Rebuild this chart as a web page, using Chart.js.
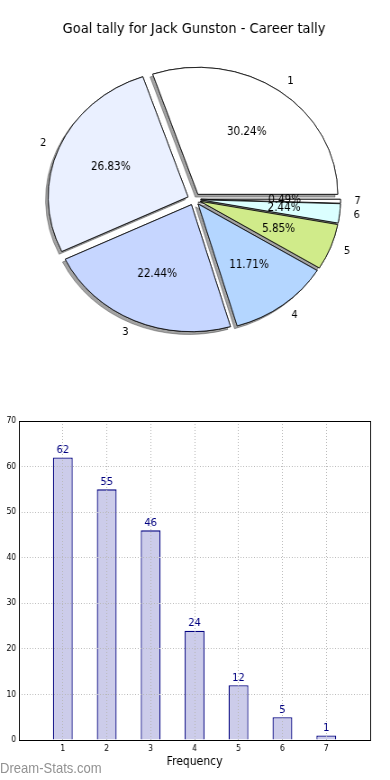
<!DOCTYPE html>
<html>
<head>
<meta charset="utf-8">
<script src="https://cdn.jsdelivr.net/npm/chart.js@4/dist/chart.umd.min.js"></script>
<style>
  body { margin: 0; background: #fff; }
  #wrap { position: relative; width: 433px; height: 780px; transform: scale(0.9007, 1); transform-origin: 0 0; }
  canvas { position: absolute; left: 0; }
  #mark { position: absolute; left: 0; top: 761px; font: 14.5px "Liberation Sans", sans-serif; line-height: 15px; color: #929292; }
</style>
</head>
<body>
<div id="wrap">
  <canvas id="pie" width="433" height="400" style="top:0;width:433px;height:400px"></canvas>
  <canvas id="bars" width="433" height="380" style="top:400px;width:433px;height:380px"></canvas>
  <div id="mark">Dream-Stats.com</div>
</div>
<script>
// goals kicked in a game, and how many games
var goals = [1, 2, 3, 4, 5, 6, 7];
var games = [62, 55, 46, 24, 12, 5, 1];
var yTicks = [0, 10, 20, 30, 40, 50, 60, 70];

var sliceColors = ['#ffffff', '#eaf0ff', '#c6d6ff', '#b4d6ff', '#d0eb8a', '#dbffff', '#ffffff'];
var SX = 1.222;     // pie is wider than tall
var EXPLODE = 6;

var total = games.reduce(function (a, b) { return a + b; }, 0);

// matplotlib goes counter clockwise from 3 o'clock, so feed it reversed
var explodePlugin = {
  id: 'explode',
  beforeDatasetsDraw: function (chart) {
    var ctx = chart.ctx;
    var arcs = chart.getDatasetMeta(0).data;
    var cx = arcs[0].x, cy = arcs[0].y, r = arcs[0].outerRadius;

    function drawArcs(shadow) {
      arcs.forEach(function (arc) {
        var mid = (arc.startAngle + arc.endAngle) / 2;
        ctx.save();
        if (shadow) {
          ctx.shadowColor = 'rgba(0,0,0,0.36)';
          ctx.shadowOffsetX = -3;
          ctx.shadowOffsetY = 2.8;
          ctx.shadowBlur = 0;
        }
        ctx.translate(cx, cy);
        ctx.scale(SX, 1);
        ctx.translate(-cx, -cy);
        ctx.translate(Math.cos(mid) * EXPLODE, Math.sin(mid) * EXPLODE);
        arc.draw(ctx);
        ctx.restore();
      });
    }
    drawArcs(true);
    drawArcs(false);

    // labels and percentages
    var labels = chart.data.labels;
    var values = chart.data.datasets[0].data;
    ctx.save();
    ctx.fillStyle = '#000';
    ctx.textBaseline = 'middle';
    arcs.forEach(function (arc, i) {
      var mid = (arc.startAngle + arc.endAngle) / 2;
      var c = Math.cos(mid), s = Math.sin(mid);
      var lx = cx + (EXPLODE + 1.1 * r) * c * SX;
      var ly = cy + (EXPLODE + 1.1 * r) * s;
      ctx.font = '11px "DejaVu Sans"';
      ctx.textAlign = c > 0 ? 'left' : 'right';
      ctx.fillText(labels[i], lx, ly);
      var px = cx + (EXPLODE + 0.6 * r) * c * SX;
      var py = cy + (EXPLODE + 0.6 * r) * s;
      ctx.font = '11.5px "DejaVu Sans"';
      ctx.textAlign = 'center';
      ctx.fillText((values[i] / total * 100).toFixed(2) + '%', px, py);
    });
    ctx.restore();
    return false;
  }
};

new Chart(document.getElementById('pie'), {
  type: 'pie',
  data: {
    labels: goals.slice().reverse().map(String),
    datasets: [{
      data: games.slice().reverse(),
      backgroundColor: sliceColors.slice().reverse(),
      borderColor: '#111',
      borderWidth: 0.8,
      rotation: 90,
      radius: 127
    }]
  },
  options: {
    responsive: false,
    animation: false,
    layout: { padding: { left: 0, right: 2, top: 0, bottom: 40 } },
    plugins: {
      legend: { display: false },
      tooltip: { enabled: false },
      title: {
        display: true,
        text: 'Goal tally for Jack Gunston - Career tally',
        color: '#000',
        font: { family: 'DejaVu Sans', size: 14.5, weight: 'normal' },
        padding: { top: 21, bottom: 0 }
      }
    }
  },
  plugins: [explodePlugin]
});

// frame round the plot and the numbers above the bars
var barExtras = {
  id: 'barExtras',
  afterDraw: function (chart) {
    var ctx = chart.ctx, a = chart.chartArea;
    ctx.save();
    ctx.strokeStyle = '#000';
    ctx.lineWidth = 1;
    ctx.strokeRect(Math.round(a.left) + 0.5, Math.round(a.top) + 0.5, Math.round(a.right - a.left), Math.round(a.bottom - a.top));
    ctx.fillStyle = '#000080';
    ctx.font = '11px "DejaVu Sans"';
    ctx.textAlign = 'center';
    ctx.textBaseline = 'bottom';
    chart.getDatasetMeta(0).data.forEach(function (bar, i) {
      ctx.fillText(games[i], bar.x, bar.y - 2);
    });
    ctx.restore();
  }
};

var tickFont = { family: 'DejaVu Sans', size: 8.5 };
var gridColor = function (c) {
  if (c.scale.axis === 'y' && (c.tick.value === 0 || c.tick.value === 70)) return 'rgba(0,0,0,0)';
  return '#b8b8b8';
};

new Chart(document.getElementById('bars'), {
  type: 'bar',
  data: {
    datasets: [{
      data: goals.map(function (g, i) { return { x: g, y: games[i] }; }),
      backgroundColor: '#ccccea',
      borderColor: '#000080',
      borderWidth: 1.3,
      barPercentage: 0.45,
      categoryPercentage: 1
    }]
  },
  options: {
    responsive: false,
    animation: false,
    layout: { padding: { left: 0, right: 22, top: 21, bottom: 0 } },
    plugins: { legend: { display: false }, tooltip: { enabled: false } },
    scales: {
      x: {
        type: 'linear', min: 0, max: 8, offset: false,
        afterBuildTicks: function (s) { s.ticks = goals.map(function (v) { return { value: v }; }); },
        afterFit: function (s) { s.height = 40; },
        grid: { z: 1, offset: false, color: gridColor, drawTicks: false, borderDash: [1, 2] },
        border: { display: false, dash: [1, 2] },
        ticks: { color: '#000', font: tickFont, padding: 4, maxRotation: 0, autoSkip: false },
        title: { display: true, text: 'Frequency', color: '#000', font: { family: 'DejaVu Sans', size: 12 }, padding: { top: 0, bottom: 11 } }
      },
      y: {
        min: 0, max: 70,
        afterBuildTicks: function (s) { s.ticks = yTicks.map(function (v) { return { value: v }; }); },
        afterFit: function (s) { s.width = 21; },
        grid: { z: 1, color: gridColor, drawTicks: false, borderDash: [2, 2] },
        border: { display: false, dash: [1, 2] },
        ticks: { color: '#000', font: tickFont, padding: 3 }
      }
    }
  },
  plugins: [barExtras]
});
</script>
</body>
</html>
